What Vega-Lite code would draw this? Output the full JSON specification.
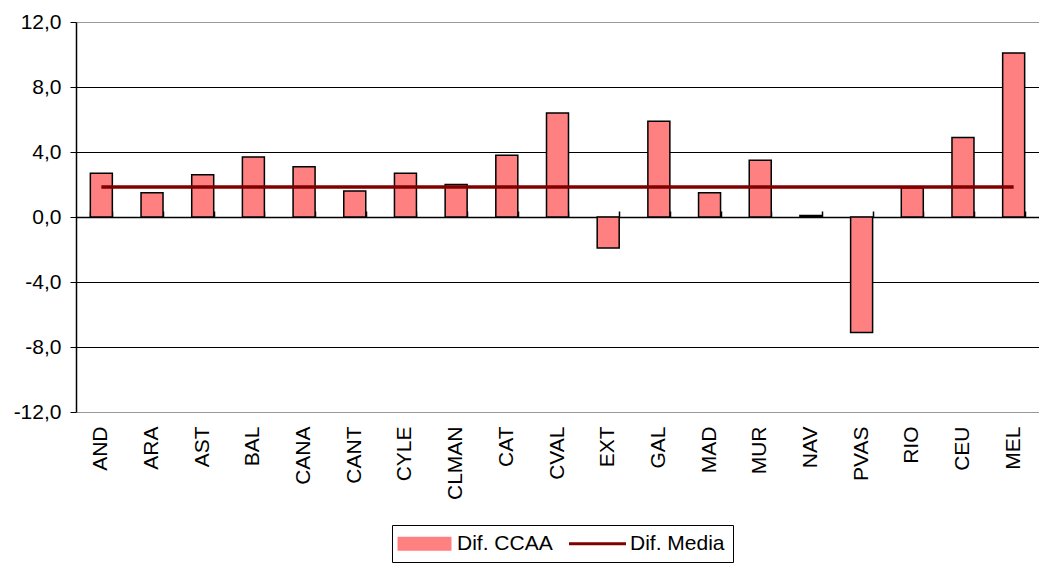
{
  "$schema": "https://vega.github.io/schema/vega-lite/v6.json",
  "autosize": "none",
  "width": 963,
  "height": 390,
  "padding": {"left": 76, "top": 22, "right": 0, "bottom": 151},
  "background": "white",
  "config": {
    "font": "Liberation Sans",
    "view": {"stroke": null},
    "axis": {"labelFont": "Liberation Sans", "labelColor": "black"},
    "legend": {
      "title": null,
      "orient": "none",
      "legendX": 316,
      "legendY": 503,
      "direction": "horizontal",
      "labelFont": "Liberation Sans",
      "labelFontSize": 21,
      "labelColor": "black",
      "strokeColor": "black",
      "fillColor": "white",
      "padding": 8,
      "columnPadding": 10,
      "symbolSize": 144,
      "symbolOffset": 14,
      "labelOffset": 22,
      "labelLimit": 300
    }
  },
  "data": {
    "values": [
      {"ccaa": "AND", "dif": 2.7, "media": 1.85},
      {"ccaa": "ARA", "dif": 1.5, "media": 1.85},
      {"ccaa": "AST", "dif": 2.6, "media": 1.85},
      {"ccaa": "BAL", "dif": 3.7, "media": 1.85},
      {"ccaa": "CANA", "dif": 3.1, "media": 1.85},
      {"ccaa": "CANT", "dif": 1.6, "media": 1.85},
      {"ccaa": "CYLE", "dif": 2.7, "media": 1.85},
      {"ccaa": "CLMAN", "dif": 2.0, "media": 1.85},
      {"ccaa": "CAT", "dif": 3.8, "media": 1.85},
      {"ccaa": "CVAL", "dif": 6.4, "media": 1.85},
      {"ccaa": "EXT", "dif": -1.9, "media": 1.85},
      {"ccaa": "GAL", "dif": 5.9, "media": 1.85},
      {"ccaa": "MAD", "dif": 1.5, "media": 1.85},
      {"ccaa": "MUR", "dif": 3.5, "media": 1.85},
      {"ccaa": "NAV", "dif": 0.1, "media": 1.85},
      {"ccaa": "PVAS", "dif": -7.1, "media": 1.85},
      {"ccaa": "RIO", "dif": 1.8, "media": 1.85},
      {"ccaa": "CEU", "dif": 4.9, "media": 1.85},
      {"ccaa": "MEL", "dif": 10.1, "media": 1.85}
    ]
  },
  "layer": [
    {
      "mark": {"type": "bar", "stroke": "black", "strokeWidth": 1.5},
      "encoding": {
        "x": {
          "field": "ccaa", "type": "nominal", "sort": null,
          "scale": {"paddingInner": 0.566, "paddingOuter": 0.283},
          "axis": {
            "title": null, "domain": false, "ticks": false, "grid": false,
            "labelAngle": 270, "labelFontSize": 21, "labelPadding": 14,
            "labelAlign": "right", "labelBaseline": "middle"
          }
        },
        "y": {
          "field": "dif", "type": "quantitative",
          "scale": {"domain": [-12, 12], "nice": false, "zero": false},
          "axis": {
            "title": null, "values": [-12, -8, -4, 0, 4, 8, 12],
            "labelExpr": "replace(replace(format(datum.value, '.1f'), '.', ','), '\u2212', '-')",
            "labelFontSize": 21, "labelPadding": 9,
            "domainColor": "black", "domainWidth": 1.5,
            "tickColor": "black", "tickSize": 6,
            "grid": true,
            "gridColor": {"condition": {"test": "abs(datum.value) == 12", "value": "#999999"}, "value": "black"},
            "gridWidth": 1
          }
        },
        "color": {
          "datum": "Dif. CCAA",
          "scale": {"domain": ["Dif. CCAA", "Dif. Media"], "range": ["#FF8080", "#800000"]},
          "legend": {
            "encode": {
              "symbols": {
                "update": {
                  "shape": {"signal": "datum.value === 'Dif. CCAA' ? 'M-4.33,-1H4.33V1H-4.33Z' : 'M-4.75,0H4.75'"},
                  "fill": {"signal": "datum.value === 'Dif. CCAA' ? '#FF8080' : 'transparent'"},
                  "stroke": {"signal": "datum.value === 'Dif. CCAA' ? '#000000' : '#800000'"},
                  "strokeWidth": {"signal": "datum.value === 'Dif. CCAA' ? 2 : 3"},
                  "strokeOpacity": {"value": 1},
                  "fillOpacity": {"value": 1},
                  "opacity": {"value": 1}
                }
              }
            }
          }
        }
      }
    },
    {
      "mark": {"type": "line", "strokeWidth": 3.5},
      "encoding": {
        "x": {
          "field": "ccaa", "type": "nominal", "sort": null,
          "axis": {
            "title": null, "labels": false, "grid": false,
            "domain": true, "domainColor": "black", "domainWidth": 1.5,
            "ticks": true, "tickColor": "black", "tickSize": 6, "tickWidth": 1.5,
            "tickBand": "extent", "offset": -195
          }
        },
        "y": {"field": "media", "type": "quantitative"},
        "color": {
          "datum": "Dif. Media",
          "legend": {
            "encode": {
              "symbols": {
                "update": {
                  "shape": {"signal": "datum.value === 'Dif. CCAA' ? 'M-4.33,-1H4.33V1H-4.33Z' : 'M-4.75,0H4.75'"},
                  "fill": {"signal": "datum.value === 'Dif. CCAA' ? '#FF8080' : 'transparent'"},
                  "stroke": {"signal": "datum.value === 'Dif. CCAA' ? '#000000' : '#800000'"},
                  "strokeWidth": {"signal": "datum.value === 'Dif. CCAA' ? 2 : 3"},
                  "strokeOpacity": {"value": 1},
                  "fillOpacity": {"value": 1},
                  "opacity": {"value": 1}
                }
              }
            }
          }
        }
      }
    }
  ],
  "resolve": {"axis": {"x": "independent"}}
}
